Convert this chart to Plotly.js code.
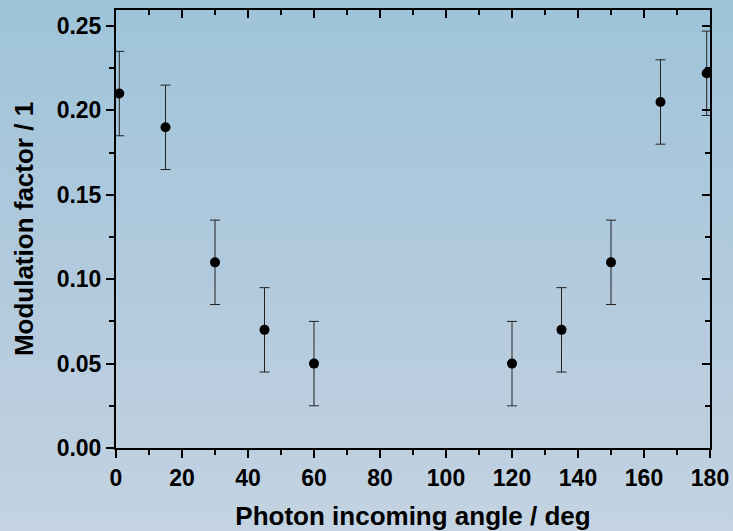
<!DOCTYPE html>
<html>
<head>
<meta charset="utf-8">
<script src="https://cdn.plot.ly/plotly-3.0.1.min.js"></script>
<style>
  html, body { margin: 0; padding: 0; }
  body { width: 733px; height: 531px; background: linear-gradient(to bottom, #9ec4da 0%, #b3cadd 55%, #c3d3e1 100%); }
  #chart { width: 733px; height: 531px; }
</style>
</head>
<body>
<div id="chart"></div>
<script>
const angles = [1, 15, 30, 45, 60, 120, 135, 150, 165, 179];
const modulation = [0.21, 0.19, 0.11, 0.07, 0.05, 0.05, 0.07, 0.11, 0.205, 0.222];
const errors = [0.025, 0.025, 0.025, 0.025, 0.025, 0.025, 0.025, 0.025, 0.025, 0.025];
const xTickVals = [0, 20, 40, 60, 80, 100, 120, 140, 160, 180];
const yTickVals = [0, 0.05, 0.10, 0.15, 0.20, 0.25];
const yTickText = ['0.00', '0.05', '0.10', '0.15', '0.20', '0.25'];

const xRange = [0, 180];
const yRange = [0, 0.2595];
const fontFam = 'Liberation Sans, Arial, sans-serif';

const data = [
  {
    x: angles, y: modulation, type: 'scatter', mode: 'markers',
    marker: { color: '#000', size: 10 },
    error_y: { type: 'data', array: errors, visible: true, color: '#222', thickness: 1, width: 5 },
    showlegend: false, hoverinfo: 'x+y'
  },
  {
    x: [xRange[0]], y: [yRange[0]], xaxis: 'x2', yaxis: 'y2', type: 'scatter', mode: 'markers',
    marker: { opacity: 0 }, showlegend: false, hoverinfo: 'skip'
  }
];

const layout = {
  width: 733, height: 531,
  margin: { l: 116, r: 23, t: 10, b: 83 },
  paper_bgcolor: 'rgba(0,0,0,0)',
  plot_bgcolor: 'rgba(0,0,0,0)',
  font: { family: fontFam, color: '#000' },
  xaxis: {
    range: xRange, tickvals: xTickVals, ticktext: xTickVals.map(String),
    ticks: 'outside', ticklen: 8, tickwidth: 2, tickcolor: '#000',
    minor: { dtick: 10, tick0: 0, ticks: 'outside', ticklen: 5, tickwidth: 2, tickcolor: '#000' },
    showline: true, linewidth: 2, linecolor: '#000', showgrid: false, zeroline: false,
    tickfont: { family: fontFam, size: 23, weight: 'bold' },
    title: { text: '<b>Photon incoming angle / deg</b>', font: { family: fontFam, size: 26 }, standoff: 20 }
  },
  yaxis: {
    range: yRange, tickvals: yTickVals, ticktext: yTickText,
    ticks: 'outside', ticklen: 8, tickwidth: 2, tickcolor: '#000',
    minor: { dtick: 0.025, tick0: 0, ticks: 'outside', ticklen: 5, tickwidth: 2, tickcolor: '#000' },
    showline: true, linewidth: 2, linecolor: '#000', showgrid: false, zeroline: false,
    tickfont: { family: fontFam, size: 23, weight: 'bold' },
    title: { text: '<b>Modulation factor / 1</b>', font: { family: fontFam, size: 26 }, standoff: 16 }
  },
  xaxis2: {
    overlaying: 'x', side: 'top', anchor: 'y2', range: xRange, tickvals: xTickVals,
    ticks: 'inside', ticklen: 8, tickwidth: 2, tickcolor: '#000', showticklabels: false,
    minor: { dtick: 10, tick0: 0, ticks: 'inside', ticklen: 5, tickwidth: 2, tickcolor: '#000' },
    showline: true, linewidth: 2, linecolor: '#000', showgrid: false, zeroline: false
  },
  yaxis2: {
    overlaying: 'y', side: 'right', anchor: 'x2', range: yRange, tickvals: yTickVals,
    ticks: 'inside', ticklen: 8, tickwidth: 2, tickcolor: '#000', showticklabels: false,
    minor: { dtick: 0.025, tick0: 0, ticks: 'inside', ticklen: 5, tickwidth: 2, tickcolor: '#000' },
    showline: true, linewidth: 2, linecolor: '#000', showgrid: false, zeroline: false
  }
};

Plotly.newPlot('chart', data, layout, { displayModeBar: false, staticPlot: true });
</script>
</body>
</html>
